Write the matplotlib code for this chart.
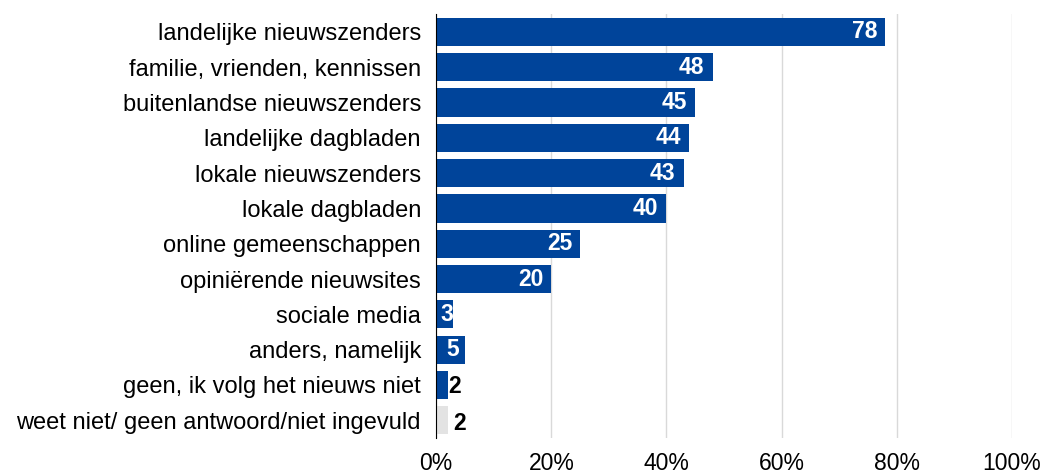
import matplotlib.pyplot as plt

plt.rcParams['font.family'] = ['Liberation Sans', 'DejaVu Sans']

categorieen = ["landelijke nieuwszenders", "familie, vrienden, kennissen",
               "buitenlandse nieuwszenders", "landelijke dagbladen",
               "lokale nieuwszenders", "lokale dagbladen",
               "online gemeenschappen", "opiniërende nieuwsites",
               "sociale media", "anders, namelijk",
               "geen, ik volg het nieuws niet",
               "weet niet/ geen antwoord/niet ingevuld"]
waarden = [78, 48, 45, 44, 43, 40, 25, 20, 3, 5, 2, 2]
kleuren = ["#00449a"] * 11 + ["#e3e3e3"]

fs = 16.5

fig = plt.figure(figsize=(10.41, 4.75), dpi=100)
ax = fig.add_axes([0.419, 0.078, 0.553, 0.892])

y = list(range(len(categorieen)))
ax.barh(y, waarden, height=0.8, color=kleuren, zorder=3)
ax.set_ylim(len(categorieen) - 0.5, -0.5)
ax.set_xlim(0, 100)
ax.set_yticks(y)
ax.set_yticklabels(categorieen, fontsize=17)
ax.set_xticks([0, 20, 40, 60, 80, 100])
ax.set_xticklabels([f"{t}%" for t in [0, 20, 40, 60, 80, 100]], fontsize=fs)
ax.tick_params(axis='y', length=0, pad=11)
ax.tick_params(axis='x', length=0, pad=10)
ax.grid(axis='x', color='#d9d9d9', linewidth=1, zorder=0)
for s in ['top', 'right', 'bottom']:
    ax.spines[s].set_visible(False)
ax.spines['left'].set_color('black')
ax.spines['left'].set_zorder(4)

for i, (w, c) in enumerate(zip(waarden, kleuren)):
    if w >= 10:
        ax.text(w - 1.4, i, str(w), ha='right', va='center', color='white',
                fontsize=fs, fontweight='bold', zorder=5)
    elif c != "#e3e3e3" and w >= 3:
        ax.text(w / 2 + 0.4, i, str(w), ha='center', va='center', color='white',
                fontsize=fs, fontweight='bold', zorder=5)
    elif c == "#e3e3e3":
        ax.text(w + 1.0, i + 0.1, str(w), ha='left', va='center', color='black',
                fontsize=fs, fontweight='bold', zorder=5)
    else:
        ax.text(w + 0.1, i + 0.05, str(w), ha='left', va='center', color='black',
                fontsize=fs, fontweight='bold', zorder=5)

fig.savefig("out.png", dpi=100)
